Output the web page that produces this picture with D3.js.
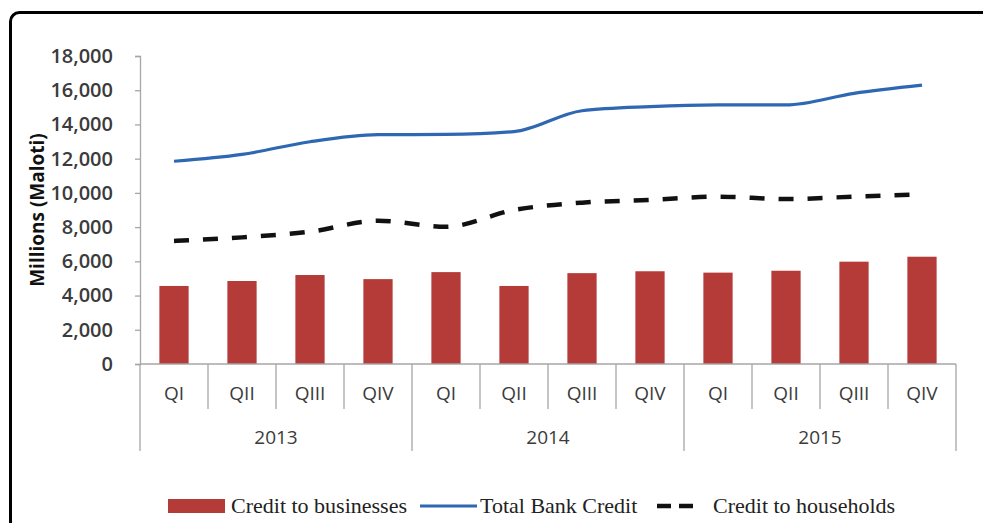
<!DOCTYPE html>
<html>
<head>
<meta charset="utf-8">
<script src="https://cdn.jsdelivr.net/npm/d3@7"></script>
<style>
  html, body { margin: 0; padding: 0; background: #fff; }
  svg { display: block; }
</style>
</head>
<body>
<div class="canvaChart"></div>
<script>
// chart data
var quarters = ["QI", "QII", "QIII", "QIV"];
var years = ["2013", "2014", "2015"];
var businesses = [4560, 4850, 5200, 4960, 5370, 4560, 5310, 5420, 5340, 5450, 5980, 6270];
var totalCredit = [11850, 12250, 12990, 13400, 13420, 13580, 14800, 15040, 15140, 15140, 15820, 16300];
var households = [7190, 7400, 7730, 8370, 8020, 9000, 9430, 9590, 9780, 9640, 9780, 9910];
var yTicks = [0, 2000, 4000, 6000, 8000, 10000, 12000, 14000, 16000, 18000];

var W = 983, H = 523;
var plotLeft = 140, plotRight = 956, plotTop = 56, plotBottom = 364;

var svg = d3.select(".canvaChart").append("svg")
    .attr("width", W)
    .attr("height", H);

// outer frame (runs off right and bottom edges)
svg.append("rect")
    .attr("x", 10.5).attr("y", 12.5)
    .attr("width", 1000).attr("height", 600)
    .attr("rx", 9)
    .attr("fill", "none")
    .attr("stroke", "#000")
    .attr("stroke-width", 3);

var idx = d3.range(businesses.length);
var x = d3.scaleBand().domain(idx).range([plotLeft, plotRight]).padding(0);
var y = d3.scaleLinear().domain([0, 18000]).range([plotBottom, plotTop]);

var axisColor = "#a6a6a6";
var textColor = "#3b3b3b";

// y axis
var yAxis = svg.append("g")
    .attr("transform", "translate(" + plotLeft + ",0)")
    .call(d3.axisLeft(y).tickValues(yTicks).tickFormat(d3.format(",")).tickSize(5).tickPadding(22));
yAxis.select(".domain").attr("stroke", axisColor).attr("stroke-width", 1.3);
yAxis.selectAll(".tick line").attr("stroke", axisColor).attr("stroke-width", 1.3);
yAxis.selectAll(".tick text")
    .attr("fill", textColor)
    .style("font-family", "'Open Sans', sans-serif")
    .style("font-size", "20px")
    .style("font-weight", "600");

// y axis title
svg.append("text")
    .attr("transform", "translate(44,210) rotate(-90)")
    .attr("text-anchor", "middle")
    .style("font-family", "'Open Sans', sans-serif")
    .style("font-size", "19px")
    .style("font-weight", "700")
    .attr("fill", "#111")
    .text("Millions (Maloti)");

// bars
var barW = x.bandwidth() * 0.43;
svg.append("g").selectAll("rect")
    .data(businesses)
    .enter().append("rect")
    .attr("x", (d, i) => x(i) + (x.bandwidth() - barW) / 2)
    .attr("y", d => y(d))
    .attr("width", barW)
    .attr("height", d => y(0) - y(d))
    .attr("fill", "#b43b38");

// x axis line
svg.append("line")
    .attr("x1", plotLeft).attr("x2", plotRight)
    .attr("y1", plotBottom).attr("y2", plotBottom)
    .attr("stroke", axisColor).attr("stroke-width", 1.3);

// category separators
var bounds = d3.range(businesses.length + 1);
svg.append("g").selectAll("line")
    .data(bounds)
    .enter().append("line")
    .attr("x1", d => plotLeft + d * x.bandwidth())
    .attr("x2", d => plotLeft + d * x.bandwidth())
    .attr("y1", plotBottom)
    .attr("y2", d => d % 4 === 0 ? 451 : 409)
    .attr("stroke", axisColor).attr("stroke-width", 1.3);

// quarter labels
svg.append("g").selectAll("text")
    .data(idx)
    .enter().append("text")
    .attr("x", i => x(i) + x.bandwidth() / 2)
    .attr("y", 400)
    .attr("text-anchor", "middle")
    .attr("fill", textColor)
    .style("font-family", "'Open Sans', sans-serif")
    .style("font-size", "19px")
    .text(i => quarters[i % 4]);

// year labels
svg.append("g").selectAll("text")
    .data(years)
    .enter().append("text")
    .attr("x", (d, i) => x(i * 4) + x.bandwidth() * 2)
    .attr("y", 444)
    .attr("text-anchor", "middle")
    .attr("fill", textColor)
    .style("font-family", "'Open Sans', sans-serif")
    .style("font-size", "19px")
    .text(d => d);

// lines
var line = d3.line()
    .x((d, i) => x(i) + x.bandwidth() / 2)
    .y(d => y(d))
    .curve(d3.curveMonotoneX);

svg.append("path")
    .datum(households)
    .attr("d", line)
    .attr("fill", "none")
    .attr("stroke", "#111")
    .attr("stroke-width", 4.5)
    .attr("stroke-dasharray", "15,14");

svg.append("path")
    .datum(totalCredit)
    .attr("d", line)
    .attr("fill", "none")
    .attr("stroke", "#2e67b2")
    .attr("stroke-width", 3.2);

// legend
var legend = svg.append("g")
    .style("font-family", "'Liberation Serif', serif")
    .style("font-size", "22px")
    .attr("fill", "#222");

legend.append("rect")
    .attr("x", 168).attr("y", 499)
    .attr("width", 57).attr("height", 14)
    .attr("fill", "#b43b38");
legend.append("text").attr("x", 231).attr("y", 513).text("Credit to businesses");

legend.append("line")
    .attr("x1", 420).attr("x2", 477)
    .attr("y1", 506).attr("y2", 506)
    .attr("stroke", "#2e67b2").attr("stroke-width", 3.2);
legend.append("text").attr("x", 480).attr("y", 513).text("Total Bank Credit");

legend.append("line")
    .attr("x1", 657).attr("x2", 693)
    .attr("y1", 506).attr("y2", 506)
    .attr("stroke", "#111").attr("stroke-width", 4.5)
    .attr("stroke-dasharray", "14,8");
legend.append("text").attr("x", 713).attr("y", 513).text("Credit to households");
</script>
</body>
</html>
